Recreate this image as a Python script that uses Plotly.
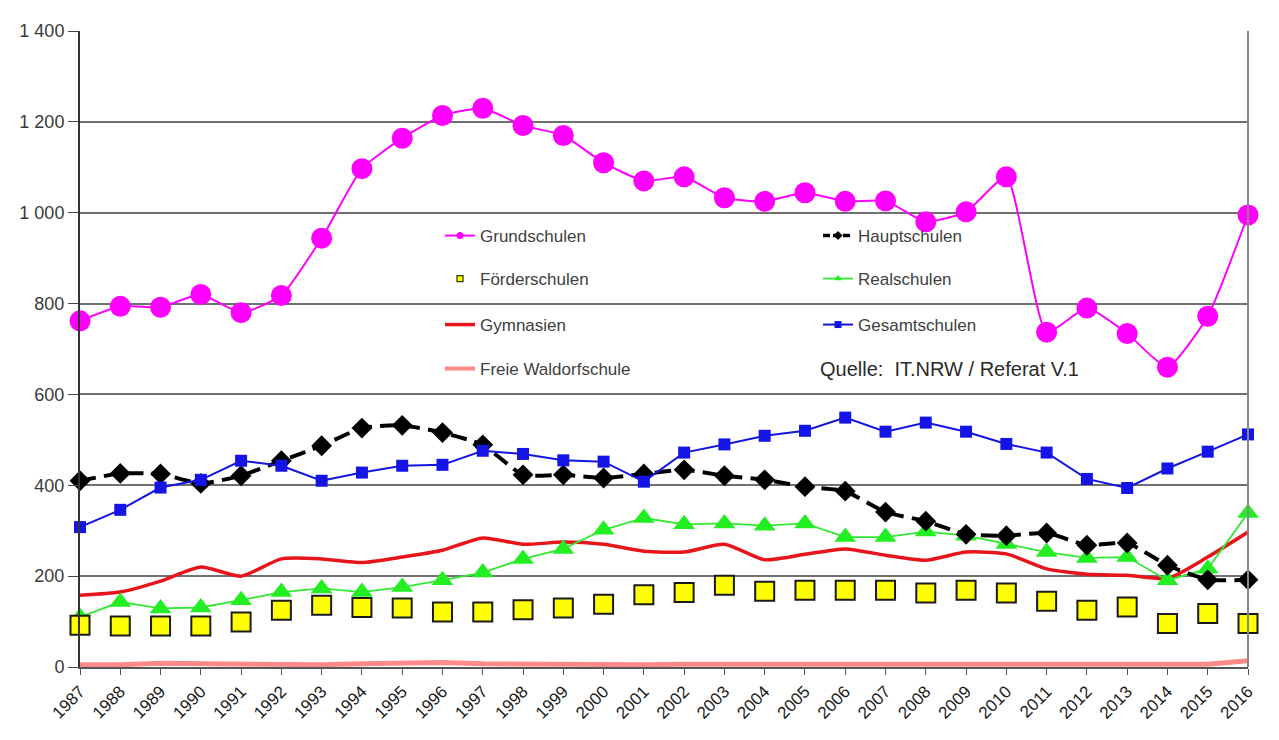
import plotly.graph_objects as go

years = list(range(1987, 2017))

grundschulen = [762, 794, 792, 820, 780, 818, 944, 1097, 1164, 1214, 1230, 1192, 1170, 1110, 1070, 1079,
                1033, 1025, 1044, 1025, 1026, 980, 1002, 1079, 737, 790, 734, 660, 772, 995]
hauptschulen = [410, 426, 425, 404, 421, 454, 487, 526, 532, 516, 489, 423, 423, 416, 425, 434,
                421, 412, 397, 387, 341, 321, 292, 289, 295, 268, 273, 224, 192, 192]
foerderschulen = [92, 90, 90, 90, 99, 125, 136, 131, 130, 121, 121, 126, 130, 138, 159, 164,
                  180, 167, 169, 169, 169, 163, 169, 163, 145, 125, 132, 96, 118, 96]
realschulen = [110, 143, 129, 131, 147, 165, 173, 165, 176, 191, 208, 238, 260, 302, 328, 314,
               316, 311, 316, 286, 286, 298, 289, 271, 253, 240, 242, 191, 216, 339]
gymnasien = [158, 165, 189, 220, 200, 238, 238, 230, 242, 257, 284, 270, 275, 270, 255, 253,
             270, 236, 248, 260, 246, 235, 253, 249, 216, 204, 202, 195, 242, 297]
gesamtschulen = [308, 346, 395, 412, 454, 443, 410, 428, 443, 445, 476, 469, 455, 452, 408, 472,
                 490, 509, 520, 549, 518, 538, 518, 491, 472, 414, 394, 437, 474, 512]
waldorf = [5, 5, 8, 7, 6, 6, 5, 7, 8, 10, 7, 6, 6, 6, 5, 6, 6, 7, 7, 7, 6, 6, 6, 6, 5, 5, 5, 5, 6, 14]

ytick_vals = [0, 200, 400, 600, 800, 1000, 1200, 1400]
ytick_text = ["0", "200", "400", "600", "800", "1 000", "1 200", "1 400"]
source_text = "Quelle:  IT.NRW / Referat V.1"

FONT = "Liberation Sans, Arial, sans-serif"

styles = {
    "Freie Waldorfschule": dict(mode="lines", line=dict(color="#ff8a8a", width=5)),
    "Gymnasien": dict(mode="lines", line=dict(color="#e8141b", width=3.5, shape="spline", smoothing=0.6)),
    "Realschulen": dict(mode="lines+markers", line=dict(color="#33e833", width=1.8),
                        marker=dict(symbol="triangle-up", size=19, color="#22ee22")),
    "Hauptschulen": dict(mode="lines+markers",
                         line=dict(color="black", width=4, dash="16px,8px", shape="spline", smoothing=0.5),
                         marker=dict(symbol="diamond", size=16, color="black")),
    "Gesamtschulen": dict(mode="lines+markers", line=dict(color="#1414e0", width=2),
                          marker=dict(symbol="square", size=12, color="#1414e6")),
    "Förderschulen": dict(mode="markers", marker=dict(symbol="square", size=19, color="#ffff00",
                                                      line=dict(color="#1a1a1a", width=2))),
    "Grundschulen": dict(mode="lines+markers",
                         line=dict(color="#ff00ff", width=2, shape="spline", smoothing=0.5),
                         marker=dict(symbol="circle", size=21, color="#ff00ff")),
}
data = {
    "Freie Waldorfschule": waldorf, "Gymnasien": gymnasien, "Realschulen": realschulen,
    "Hauptschulen": hauptschulen, "Gesamtschulen": gesamtschulen,
    "Förderschulen": foerderschulen, "Grundschulen": grundschulen,
}

fig = go.Figure()
for name, st in styles.items():
    fig.add_trace(go.Scatter(x=years, y=data[name], name=name, showlegend=False,
                             cliponaxis=False, **st))

legend_items = [
    ("Grundschulen", "legend", dict(mode="lines+markers", line=dict(color="#ff00ff", width=2),
                                    marker=dict(symbol="circle", size=7, color="#ff00ff"))),
    ("Hauptschulen", "legend", dict(mode="lines+markers", line=dict(color="black", width=3.5, dash="7px,3px"),
                                    marker=dict(symbol="diamond", size=7, color="black"))),
    ("Förderschulen", "legend2", dict(mode="markers", marker=dict(symbol="square", size=6, color="#ffff00",
                                                                  line=dict(color="#333300", width=1.2)))),
    ("Realschulen", "legend2", dict(mode="lines+markers", line=dict(color="#33e833", width=1.8),
                                    marker=dict(symbol="triangle-up", size=7, color="#22ee22"))),
    ("Gymnasien", "legend3", dict(mode="lines", line=dict(color="#e8141b", width=3.5))),
    ("Gesamtschulen", "legend3", dict(mode="lines+markers", line=dict(color="#1414e0", width=2),
                                      marker=dict(symbol="square", size=7, color="#1414e6"))),
    ("Freie Waldorfschule", "legend4", dict(mode="lines", line=dict(color="#ff8a8a", width=4))),
]
for rank, (name, leg, st) in enumerate(legend_items):
    fig.add_trace(go.Scatter(x=[None], y=[None], name=name, legend=leg, legendrank=rank + 1,
                             showlegend=True, hoverinfo="skip", **st))

RL, RT, RW, RH = 80, 31, 1168, 636
OFF = 8
W, H = 1279 - OFF, 740 - OFF
L, T = RL - OFF, RT - OFF
R = W - L - RW
B = H - T - RH


def px_x(p):
    return (p - RL) / RW


def px_y(p):
    return (RT + RH - p) / RH


legend_common = dict(orientation="h", xanchor="left", yanchor="middle", entrywidth=333,
                     font=dict(family=FONT, size=17, color="#404040"),
                     bgcolor="rgba(0,0,0,0)", itemsizing="trace", traceorder="normal")

layout_legends = {}
for i, rowy in enumerate([236, 279, 325, 369]):
    key = "legend" if i == 0 else f"legend{i + 1}"
    layout_legends[key] = dict(legend_common, x=px_x(440), y=px_y(rowy))

fig.update_layout(
    width=W, height=H,
    margin=dict(l=L, r=R, t=T, b=B, autoexpand=False),
    paper_bgcolor="white", plot_bgcolor="white",
    showlegend=True,
    font=dict(family=FONT, size=15, color="#333333"),
    xaxis=dict(range=[1987, 2016], tickmode="array", tickvals=years,
               ticktext=[str(y) for y in years], tickangle=-45,
               tickfont=dict(family=FONT, size=17, color="#1a1a1a"),
               ticks="outside", ticklen=6, tickcolor="#555555",
               showgrid=False, zeroline=False, showline=True, linecolor="#555555", linewidth=2,
               mirror=False),
    yaxis=dict(range=[0, 1400], tickmode="array", tickvals=ytick_vals, ticktext=ytick_text,
               tickfont=dict(family=FONT, size=18, color="#3a3a3a"),
               ticks="outside", ticklen=10, tickcolor="#444444",
               showgrid=True, gridcolor="#707070", gridwidth=2, zeroline=False,
               showline=True, linecolor="#333333", linewidth=2),
    shapes=[dict(type="line", xref="paper", yref="paper", x0=1, x1=1, y0=0, y1=1,
                 line=dict(color="#888888", width=2))],
    annotations=[dict(text=source_text, xref="paper", yref="paper", x=px_x(818), y=px_y(369),
                      xanchor="left", yanchor="middle", showarrow=False,
                      font=dict(family=FONT, size=20, color="#2a2a2a"))],
    **layout_legends,
)

fig.write_html("out.html")
